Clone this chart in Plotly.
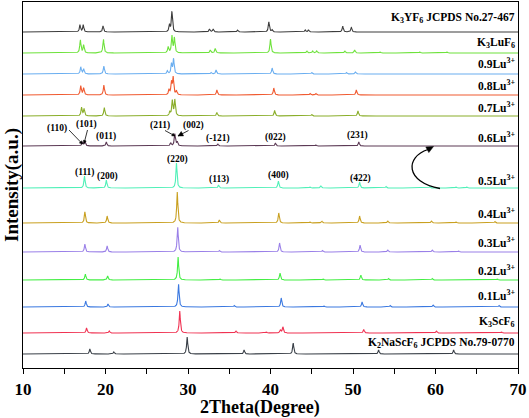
import numpy as np
import plotly.graph_objects as go

# ---------------- data (peak positions in 2theta, peak heights in plot units) -------------
labels = [
    "<b>K<sub>3</sub>YF<sub>6</sub> JCPDS No.27-467</b>",
    "<b>K<sub>3</sub>LuF<sub>6</sub></b>",
    "<b>0.9Lu<sup>3+</sup></b>",
    "<b>0.8Lu<sup>3+</sup></b>",
    "<b>0.7Lu<sup>3+</sup></b>",
    "<b>0.6Lu<sup>3+</sup></b>",
    "<b>0.5Lu<sup>3+</sup></b>",
    "<b>0.4Lu<sup>3+</sup></b>",
    "<b>0.3Lu<sup>3+</sup></b>",
    "<b>0.2Lu<sup>3+</sup></b>",
    "<b>0.1Lu<sup>3+</sup></b>",
    "<b>K<sub>3</sub>ScF<sub>6</sub></b>",
    "<b>K<sub>2</sub>NaScF<sub>6</sub> JCPDS No.79-0770</b>",
]
offsets = [336, 315, 294, 273, 252, 222, 180, 145, 116, 88, 61, 35, 14]
label_y = [350, 325, 305, 283, 261, 231, 188, 155, 126, 98, 73, 46, 25]

k3yf6_pos = [16.9, 17.3, 19.7, 27.75, 28.05, 32.6, 33.05, 36.0, 39.8, 40.2, 44.2, 44.6, 48.75, 49.8]
k3yf6_h = [7, 7, 6, 7, 20, 3, 3, 2, 10, 2, 2, 2, 6, 4.5]
k3luf6_pos = [16.95, 17.35, 19.75, 27.6, 28.05, 28.35, 32.7, 33.3, 40.0, 44.4, 45.1, 45.6, 49.0, 50.2, 53.3, 58.1, 61.4]
k3luf6_h = [13, 8, 14, 6, 17, 15, 3, 4.5, 14, 2, 2, 2, 2, 3, 1, 1, 1]
lu09_pos = [17.0, 17.35, 19.8, 27.5, 28.0, 28.25, 32.8, 33.4, 40.2, 45.0, 49.2, 50.3]
lu09_h = [7, 5, 8, 3, 10, 15, 1.5, 4, 6, 1.5, 1.5, 2]
lu08_pos = [17.0, 17.35, 19.8, 27.7, 28.0, 28.2, 28.6, 33.5, 40.4, 44.8, 45.5, 50.4]
lu08_h = [9, 7, 10, 5, 12, 17, 4, 5, 7, 1.5, 1.5, 5]
lu07_pos = [17.1, 17.4, 19.85, 27.8, 28.1, 28.4, 33.5, 40.5, 45.0, 50.6]
lu07_h = [8.5, 7, 8.5, 4, 15, 16, 3.5, 5.5, 1.5, 5]
lu06_pos = [17.2, 17.5, 20.1, 27.9, 28.4, 28.7, 33.6, 40.6, 45.5, 50.7]
lu06_h = [4, 5, 4, 3, 12, 4, 2, 3, 1, 4]
lu05_pos = [17.45, 20.1, 28.6, 33.7, 40.95, 44.8, 46.1, 50.8, 54.0, 59.3, 62.5, 63.8]
lu05_h = [12, 8, 25, 3, 7, 1, 2, 6, 1.5, 1.5, 1, 1]
lu04_pos = [17.5, 20.2, 28.7, 33.8, 41.0, 44.8, 46.2, 50.8, 54.2, 59.5, 62.5, 67.2]
lu04_h = [11, 7, 31, 3, 10, 1, 2, 7, 2, 2, 1, 1.5]
lu03_pos = [17.5, 20.2, 28.75, 33.8, 41.1, 46.3, 50.85, 54.2, 59.6, 62.8]
lu03_h = [8, 6, 25, 1.5, 9, 1.5, 7, 2, 2, 1]
lu02_pos = [17.55, 20.25, 28.8, 33.9, 41.15, 46.4, 50.95, 54.3, 59.6, 67.5]
lu02_h = [6, 4, 23, 1, 7, 1, 5, 1.5, 1.5, 1]
lu01_pos = [17.6, 20.3, 28.85, 35.6, 41.3, 46.5, 51.1, 54.5, 59.7, 67.7]
lu01_h = [6, 3, 23, 1.5, 9, 1, 5, 1.5, 2, 1.5]
k3scf6_pos = [17.7, 20.45, 29.0, 35.8, 39.5, 41.2, 41.5, 51.3, 60.1, 68.0]
k3scf6_h = [5, 2, 22, 2, 1, 3, 6, 3.5, 2, 1]
k2nascf6_pos = [18.1, 21.0, 29.9, 36.8, 42.75, 53.1, 62.2]
k2nascf6_h = [5, 2, 17, 4, 11, 4, 4]

peak_sets = [
    (k3yf6_pos, k3yf6_h), (k3luf6_pos, k3luf6_h), (lu09_pos, lu09_h), (lu08_pos, lu08_h),
    (lu07_pos, lu07_h), (lu06_pos, lu06_h), (lu05_pos, lu05_h), (lu04_pos, lu04_h),
    (lu03_pos, lu03_h), (lu02_pos, lu02_h), (lu01_pos, lu01_h), (k3scf6_pos, k3scf6_h),
    (k2nascf6_pos, k2nascf6_h),
]
colors = ["#3d3d3d", "#6ee23c", "#6aaef0", "#f05a30", "#8aae2a", "#5c3a55", "#50f0b8",
          "#c9a020", "#9a80e8", "#44ee44", "#3a78e0", "#f03252", "#3a4048"]

hkl_06 = ["(011)", "(-121)", "(022)", "(231)"]
hkl_06_xy = [(20.1, 232), (33.6, 230), (40.6, 231), (50.6, 233)]
hkl_05 = ["(111)", "(200)", "(220)", "(113)", "(400)", "(422)"]
hkl_05_xy = [(17.5, 196), (20.25, 192), (28.7, 209), (33.8, 189), (41.0, 193), (50.9, 190)]

# ---------------- build figure ----------------
theta = np.arange(10, 70.0001, 0.02)
fwhm = 0.16
fig = go.Figure()
for (pos, h), off, col in zip(peak_sets, offsets, colors):
    prof = np.zeros_like(theta)
    for p, a in zip(pos, h):
        prof += a / (1 + ((theta - p) / (fwhm / 2)) ** 2)
    fig.add_trace(go.Scatter(x=theta, y=prof + off, mode="lines",
                             line=dict(color=col, width=1.1), hoverinfo="skip"))

def X(px):
    return 10 + (px - 23) / 8.25

def Y(py):
    return 368 - py

ann = []
shapes = []
FONT = "Liberation Serif, Times New Roman, serif"
for lab, ly in zip(labels, label_y):
    ann.append(dict(x=69.85, y=ly, xref="x", yref="y", text=lab, showarrow=False,
                    xanchor="right", yanchor="middle", font=dict(size=11.5, family=FONT, color="black")))

for t, (xx, yy) in zip(hkl_06, hkl_06_xy):
    ann.append(dict(x=xx, y=yy, xref="x", yref="y", text="<b>%s</b>" % t, showarrow=False,
                    font=dict(size=9.5, family=FONT, color="black")))
for t, (xx, yy) in zip(hkl_05, hkl_05_xy):
    ann.append(dict(x=xx, y=yy, xref="x", yref="y", text="<b>%s</b>" % t, showarrow=False,
                    font=dict(size=9.5, family=FONT, color="black")))
for t, (px, py) in [("(110)", (57, 128)), ("(101)", (86, 124)), ("(211)", (160, 125)), ("(002)", (193, 125))]:
    ann.append(dict(x=X(px), y=Y(py), xref="x", yref="y", text="<b>%s</b>" % t, showarrow=False,
                    font=dict(size=9.5, family=FONT, color="black")))


def arrow_head(tail, tip, length, half_w):
    tx, ty = tail
    hx, hy = tip
    dx, dy = hx - tx, hy - ty
    n = (dx * dx + dy * dy) ** 0.5
    dx, dy = dx / n, dy / n
    bx, by = hx - length * dx, hy - length * dy
    p1 = (bx - half_w * dy, by + half_w * dx)
    p2 = (bx + half_w * dy, by - half_w * dx)
    path = "M %f,%f L %f,%f L %f,%f Z" % (X(hx), Y(hy), X(p1[0]), Y(p1[1]), X(p2[0]), Y(p2[1]))
    return dict(type="path", path=path, xref="x", yref="y", fillcolor="black",
                line=dict(color="black", width=0.5))


# thin arrows on the 0.6 pattern
for tail, tip, L, W in [((69, 130), (82.5, 144), 3, 1.5), ((87.5, 130), (84, 143.5), 3, 1.5),
                        ((165, 130.5), (175, 136), 3, 1.5), ((188.5, 130.5), (178, 136), 5, 2.5)]:
    shapes.append(dict(type="line", x0=X(tail[0]), y0=Y(tail[1]), x1=X(tip[0]), y1=Y(tip[1]),
                       xref="x", yref="y", line=dict(color="black", width=0.8)))
    shapes.append(arrow_head(tail, tip, L, W))

# curved arrow between 0.5 and 0.6 patterns
p0, c1, c2, p3 = (440, 188.5), (405, 182), (405, 157), (428, 149.5)
path = "M %f,%f C %f,%f %f,%f %f,%f" % (X(p0[0]), Y(p0[1]), X(c1[0]), Y(c1[1]),
                                         X(c2[0]), Y(c2[1]), X(p3[0]), Y(p3[1]))
shapes.append(dict(type="path", path=path, xref="x", yref="y", line=dict(color="black", width=1.3)))
shapes.append(arrow_head((426, 150.5), (433.5, 146.5), 7, 3.2))

# axis titles
ann.append(dict(x=(260 - 23) / 495, y=(368 - 407) / 366, xref="paper", yref="paper",
                text="<b>2Theta(Degree)</b>", showarrow=False, xanchor="center", yanchor="middle",
                font=dict(size=18, family=FONT, color="black")))
ann.append(dict(x=(12 - 23) / 495, y=0.5, xref="paper", yref="paper", textangle=-90,
                text="<b>Intensity(a.u.)</b>", showarrow=False, xanchor="center", yanchor="middle",
                font=dict(size=19, family=FONT, color="black")))

fig.update_layout(
    width=529, height=418, margin=dict(l=23, r=11, t=2, b=50),
    plot_bgcolor="white", paper_bgcolor="white", showlegend=False,
    font=dict(family=FONT, color="black"),
    annotations=ann, shapes=shapes,
    xaxis=dict(range=[10, 70], tick0=10, dtick=10, ticks="outside", ticklen=5, tickwidth=1.4,
               tickcolor="black", showline=True, linewidth=1.4, linecolor="black", mirror=True,
               showgrid=False, zeroline=False,
               tickfont=dict(size=17, family=FONT, color="black", weight="bold"),
               minor=dict(dtick=5, ticks="outside", ticklen=5, tickwidth=1.4, tickcolor="black", showgrid=False)),
    yaxis=dict(range=[0, 366], showticklabels=False, ticks="", showline=True, linewidth=1.4,
               linecolor="black", mirror=True, showgrid=False, zeroline=False),
)
fig.write_html("out.html", config={"displayModeBar": False},
               post_script="document.body.style.margin='0px';document.body.style.overflow='hidden';")
